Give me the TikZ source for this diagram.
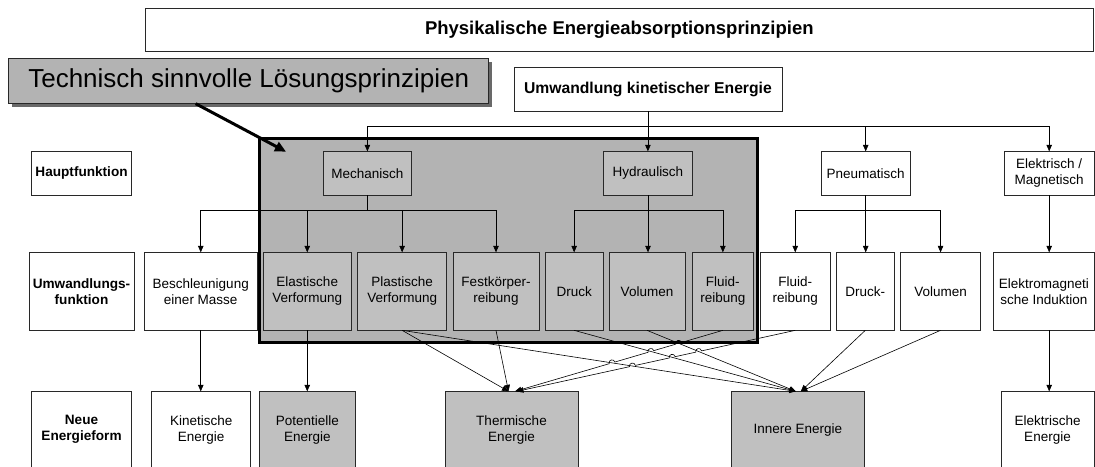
\documentclass[tikz,border=0pt]{standalone}
\usepackage{fontspec}
\setmainfont{Liberation Sans}
\usetikzlibrary{arrows.meta,calc,intersections,shadows}
\definecolor{zonegray}{RGB}{179,179,179}
\definecolor{boxgray}{RGB}{192,192,192}
\definecolor{shadowgray}{RGB}{105,105,105}
\definecolor{edge}{RGB}{40,40,40}
\tikzset{
  box/.style={draw=edge, line width=0.7pt, fill=white, inner sep=0pt, align=center,
              font=\fontsize{13.5}{15.7}\selectfont},
  gbox/.style={box, fill=boxgray},
  head/.style={box, font=\bfseries\fontsize{13.6}{16}\selectfont},
  conn/.style={draw=black, line width=0.6pt},
  arr/.style={conn, -{Triangle[length=6.5pt,width=5.5pt]}},
  pointer/.style={draw=black, line width=3pt, -{Triangle[length=11pt,width=10pt]}},
}
\begin{document}
\begin{tikzpicture}[x=1pt,y=1pt]
\useasboundingbox (0,0) rectangle (1095,466);

% headline and callout
\node[box, minimum width=947.4, minimum height=43.4, font=\bfseries\fontsize{18.5}{21}\selectfont]
  (title) at (619.3,436) {Physikalische Energieabsorptionsprinzipien};
\node[box, fill=zonegray, minimum width=479.8, minimum height=45,
      drop shadow={shadow xshift=3.5pt, shadow yshift=-3.5pt, fill=shadowgray, opacity=1},
      font=\fontsize{26}{30}\selectfont]
  (tech) at (248.7,385.2) {Technisch sinnvolle Lösungsprinzipien};
\node[box, minimum width=267.9, minimum height=43.3, font=\bfseries\fontsize{15.7}{18}\selectfont]
  (umw) at (647.9,376.65) {Umwandlung kinetischer Energie};

% highlighted zone
\node[draw=black, line width=3pt, fill=zonegray, minimum width=497.4, minimum height=204.7, inner sep=0pt]
  (zone) at (508.3,225.35) {};

% row 1: main functions
\node[head, minimum width=99.9, minimum height=43.3] (haupt) at (81.55,292.65) {Hauptfunktion};
\node[gbox, minimum width=88,   minimum height=43.3] (mech)  at (367.4,292.65) {Mechanisch};
\node[gbox, minimum width=88.5, minimum height=43.3] (hyd)   at (648,292.65)   {Hydraulisch};
\node[box,  minimum width=88.6, minimum height=43.3] (pneu)  at (865.7,292.65) {Pneumatisch};
\node[box,  minimum width=89.6, minimum height=43.3] (elek)  at (1049.2,292.65) {Elektrisch /\\Magnetisch};

% row 2: conversion functions
\node[head, minimum width=105,   minimum height=77.3] (umwf)  at (81.5,174.65)   {Umwandlungs-\\funktion};
\node[box,  minimum width=112.5, minimum height=77.3] (besch) at (200.75,174.65) {Beschleunigung\\einer Masse};
\node[gbox, minimum width=88.5,  minimum height=77.3] (elast) at (307.25,174.65) {Elastische\\Verformung};
\node[gbox, minimum width=88.7,  minimum height=77.3] (plast) at (402.15,174.65) {Plastische\\Verformung};
\node[gbox, minimum width=86,    minimum height=77.3] (fest)  at (496,174.65)    {Festkörper-\\reibung};
\node[gbox, minimum width=57.7,  minimum height=77.3] (druck) at (574.15,174.65) {Druck};
\node[gbox, minimum width=76,    minimum height=77.3] (vol)   at (647,174.65)    {Volumen};
\node[gbox, minimum width=61.3,  minimum height=77.3] (fh)    at (722.85,174.65) {Fluid-\\reibung};
\node[box,  minimum width=70.1,  minimum height=77.3] (fp)    at (795.25,174.65) {Fluid-\\reibung};
\node[box,  minimum width=57.4,  minimum height=77.3] (dp)    at (865.3,174.65)  {Druck-};
\node[box,  minimum width=80.3,  minimum height=77.3] (vp)    at (940.55,174.65) {Volumen};
\node[box,  minimum width=100.2, minimum height=77.3] (emi)   at (1043.9,174.65) {Elektromagneti\\sche Induktion};

% row 3: resulting energy forms
\node[head, minimum width=99.9,  minimum height=76] (neue)  at (81.55,36.3)  {Neue\\Energieform};
\node[box,  minimum width=99.3,  minimum height=76] (kin)   at (201.15,36.3) {Kinetische\\Energie};
\node[gbox, minimum width=95.4,  minimum height=76] (pot)   at (307.3,36.3)  {Potentielle\\Energie};
\node[gbox, minimum width=133,   minimum height=76] (therm) at (511.5,36.3)  {Thermische\\Energie};
\node[gbox, minimum width=133.6, minimum height=76] (inn)   at (797.8,36.3)  {Innere Energie};
\node[box,  minimum width=93,    minimum height=76] (elen)  at (1047.5,36.3) {Elektrische\\Energie};

% callout pointer
\coordinate (ptr) at (286,314.3);
\draw[pointer] ($(tech.south west)+(187.2,0)$) -- (ptr);

% tree from the top box
\coordinate (ubus) at ($(umw.south)+(0,-15)$);
\draw[arr] (umw.south) -- (umw.south |- hyd.north);
\draw[arr] (ubus) -| (mech.north);
\draw[arr] (ubus) -| (pneu.north);
\draw[arr] (ubus) -| (elek.north);

\coordinate (mbus) at ($(mech.south)+(0,-15)$);
\draw[conn] (mech.south) -- (mbus);
\draw[arr] (mbus) -| (besch.north);
\draw[arr] (mbus) -| (elast.north);
\draw[arr] (mbus) -| (plast.north);
\draw[arr] (mbus) -| (fest.north);

\coordinate (hbus) at ($(hyd.south)+(0,-15)$);
\draw[arr] (hyd.south) -- (hyd.south |- vol.north);
\draw[arr] (hbus) -| (druck.north);
\draw[arr] (hbus) -| (fh.north);

\coordinate (pbus) at ($(pneu.south)+(0,-15)$);
\draw[arr] (pneu.south) -- (pneu.south |- dp.north);
\draw[arr] (pbus) -| (fp.north);
\draw[arr] (pbus) -| (vp.north);

\draw[arr] (elek.south) -- (elek.south |- emi.north);

% straight links to the energy forms
\draw[arr] (besch.south) -- (besch.south |- kin.north);
\draw[arr] (elast.south) -- (elast.south |- pot.north);
\draw[arr] (emi.south -| elek.south) -- (elek.south |- elen.north);

% diagonal links
\coordinate (thL)  at ($(therm.north)+(-3,0)$);
\coordinate (thM)  at ($(therm.north)+(3.5,0)$);
\coordinate (thR)  at ($(therm.north)+(5.5,0)$);
\coordinate (innL) at ($(inn.north)+(-2,0)$);
\coordinate (innR) at ($(inn.north)+(3,0)$);

\draw[arr] (plast.south) -- (thL);
\draw[arr] (fest.south) -- (thL);
\draw[arr, name path=l1] (plast.south) -- (innL);
\draw[arr, name path=l2] (druck.south) -- (innL);
\draw[arr, name path=l3] (vol.south) -- (innL);
\draw[arr] (dp.south) -- (innR);
\draw[arr] (vp.south) -- (innR);

% links that hop over the crossing lines
\path[name path=ta] (fh.south) -- (thM);
\path[name path=tb] (fp.south) -- (thR);
\path[name intersections={of=ta and l1, by=a1}];
\path[name intersections={of=ta and l2, by=a2}];
\path[name intersections={of=ta and l3, by=a3}];
\path[name intersections={of=tb and l1, by=b1}];
\path[name intersections={of=tb and l2, by=b2}];
\path[name intersections={of=tb and l3, by=b3}];
\foreach \p/\s in {a1/fh,a2/fh,a3/fh,b1/fp,b2/fp,b3/fp}{
  \coordinate (s\p) at ($(\p)!3pt!(\s.south)$);
  \coordinate (e\p) at ($(\p)!-3pt!(\s.south)$);
}
\draw[arr] (fh.south)
  -- (sa3) .. controls ($(sa3)!4pt!-90:(ea3)$) and ($(ea3)!4pt!90:(sa3)$) .. (ea3)
  -- (sa2) .. controls ($(sa2)!4pt!-90:(ea2)$) and ($(ea2)!4pt!90:(sa2)$) .. (ea2)
  -- (sa1) .. controls ($(sa1)!4pt!-90:(ea1)$) and ($(ea1)!4pt!90:(sa1)$) .. (ea1)
  -- (thM);
\draw[arr] (fp.south)
  -- (sb3) .. controls ($(sb3)!4pt!-90:(eb3)$) and ($(eb3)!4pt!90:(sb3)$) .. (eb3)
  -- (sb2) .. controls ($(sb2)!4pt!-90:(eb2)$) and ($(eb2)!4pt!90:(sb2)$) .. (eb2)
  -- (sb1) .. controls ($(sb1)!4pt!-90:(eb1)$) and ($(eb1)!4pt!90:(sb1)$) .. (eb1)
  -- (thR);
\end{tikzpicture}
\end{document}
